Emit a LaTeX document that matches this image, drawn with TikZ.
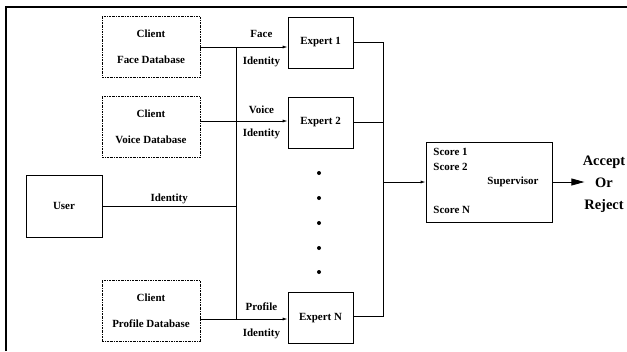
\documentclass[tikz,border=0pt]{standalone}
\usepackage{fontspec}
\setmainfont{Liberation Serif}
\usetikzlibrary{arrows.meta, positioning}
\tikzset{larrow/.style = {-{Latex[length=5bp,width=3bp]}}}
\tikzset{box/.style = {draw, line width=.8bp, inner sep=0pt}}
\tikzset{dbbox/.style = {box, dash pattern=on 2bp off 1bp on .6bp off 1bp,
    minimum width=98bp, minimum height=61bp, align=center}}
\tikzset{expert/.style = {box, minimum width=65bp, minimum height=51bp}}

\begin{document}
\begin{tikzpicture}[x=1bp, y=-1bp, line width=.8bp, inner sep=1bp,
    font=\fontsize{11}{13}\selectfont\bfseries]
    \useasboundingbox (0,0) rectangle (627,351);
    \draw[line width=2bp] (6,351) -- (6,6.5) -- (627,6.5);

    \node[dbbox] (face)    at (151,47)    {Client\\[13bp]Face Database};
    \node[dbbox] (voice)   at (151,127)   {Client\\[13bp]Voice Database};
    \node[dbbox] (profile) at (151,310.5) {Client\\[13bp]Profile Database};
    \node[box, minimum width=76bp, minimum height=62bp] (user) at (64,206) {User};

    \node[expert] (e1) at (320.5,42.5) {Expert 1};
    \node[expert] (e2) at (320.5,122.5) {Expert 2};
    \node[expert] (eN) at (320.5,318) {Expert N};

    \node[box, minimum width=126bp, minimum height=80bp] (sup) at (489,182) {};
    \node[anchor=west] (s1) at (432,152) {Score 1};
    \node[anchor=west] (s2) at (432,166.5) {Score 2};
    \node[anchor=west] (sN) at (432,210) {Score N};
    \node (supname) at (513,182) {Supervisor};

    \node[font=\fontsize{14.5}{22}\selectfont\bfseries, align=center, inner sep=0pt]
        (decision) at (604,184) {Accept\\Or\\Reject};

    \foreach \y in {173,198,223,248,272}
        \fill (319,\y) circle (2bp);

    \coordinate (lbus) at (236,0);
    \coordinate (rbus) at (383,0);

    % inputs to the experts
    \draw[larrow] (face.east) -- (face.east -| e1.west)
        node[pos=.7, above=8bp] {Face} node[pos=.7, below=8bp] {Identity};
    \draw[larrow] ([yshift=6bp]voice.east) -- ([yshift=6bp]voice.east -| e2.west)
        node[pos=.7, above=5.5bp] {Voice} node[pos=.7, below=6bp] {Identity};
    \draw[larrow] ([yshift=-8.5bp]profile.east) -- ([yshift=-8.5bp]profile.east -| eN.west)
        node[pos=.7, above=7.5bp] {Profile} node[pos=.7, below=8bp] {Identity};
    \draw (user.east) -- (user.east -| lbus) node[midway, above=1bp] {Identity};
    \draw (face.east -| lbus) -- ([yshift=-8.5bp]profile.east -| lbus);

    % experts to the supervisor
    \draw (e1.east) -- (e1.east -| rbus) -- ([yshift=2bp]eN.east -| rbus) -- ([yshift=2bp]eN.east);
    \draw (e2.east) -- (e2.east -| rbus);
    \draw[larrow] (sup.west -| rbus) -- (sup.west);
    \draw[-{Triangle[length=13bp,width=7bp]}] (sup.east) -- ([xshift=2bp]sup.east -| decision.west);
\end{tikzpicture}
\end{document}
